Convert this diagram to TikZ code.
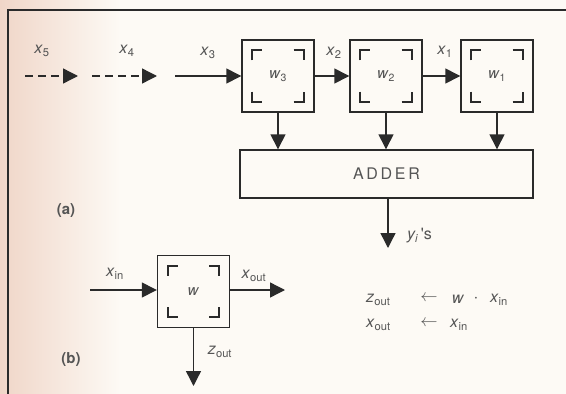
\documentclass[tikz,border=0pt]{standalone}
\usepackage{fontspec}
\setmainfont{TeX Gyre Heros}
\usetikzlibrary{arrows.meta}
\definecolor{ink}{HTML}{2A2A2A}
\definecolor{txt}{HTML}{555555}
\definecolor{paper}{HTML}{FDFAF5}
\definecolor{tint}{HTML}{F0D6C8}
\newcommand\vv[2]{\textit{#1}\textsubscript{#2}}
\newcommand\cornermarks[1]{%
  \draw[mark line] ([shift={(11,21)}]#1.north west) -- ++(0,-10) -- ++(10,0);
  \draw[mark line] ([shift={(-21,11)}]#1.north east) -- ++(10,0) -- ++(0,10);
  \draw[mark line] ([shift={(11,-21)}]#1.south west) -- ++(0,10) -- ++(10,0);
  \draw[mark line] ([shift={(-21,-11)}]#1.south east) -- ++(10,0) -- ++(0,-10);}
\begin{document}
\begin{tikzpicture}[x=1pt,y=-1pt,
  wbox/.style={draw=ink,line width=1.4pt,minimum width=72pt,minimum height=72pt,inner sep=0pt,
     font=\fontsize{15}{17}\selectfont,text=txt},
  mark line/.style={draw=ink,line width=1.8pt},
  lab/.style={font=\fontsize{16}{18}\selectfont,text=txt,inner sep=1pt},
  tag/.style={font=\fontsize{15}{17}\selectfont\bfseries,text=ink!80,inner sep=1pt},
  flow/.style={draw=ink,line width=1.4pt,-{Triangle[length=15pt,width=15pt]}},
  dflow/.style={flow,dash pattern=on 8pt off 5pt},
  frame/.style={draw=ink,line width=1.6pt}]
\useasboundingbox (0,0) rectangle (566,394);
\fill[paper] (0,0) rectangle (566,394);
\shade[left color=tint,right color=paper] (0,0) rectangle (120,394);
% frame
\draw[frame] (8,394) -- (8,10) -- (566,10);
% (a) chain
\node[wbox] (w3) at (278,76) {\vv{w}{3}};
\node[wbox] (w2) at (386,76) {\vv{w}{2}};
\node[wbox] (w1) at (497,76) {\vv{w}{1}};
\cornermarks{w3}\cornermarks{w2}\cornermarks{w1}
\node[draw=ink,line width=1.4pt,minimum width=293pt,minimum height=48pt,inner sep=0pt,
  font=\fontsize{16}{18}\selectfont,text=txt] (adder) at (386.5,174) {A\,D\,D\,E\,R};
\coordinate (s5) at (25,76);  \coordinate (e5) at (78,76);
\coordinate (s4) at (92,76);  \coordinate (e4) at (157,76);
\coordinate (s3) at (175,76);
\draw[dflow] (s5) -- (e5);
\draw[dflow] (s4) -- (e4);
\draw[flow] (s3) -- (w3.west);
\draw[flow] (w3.east) -- (w2.west);
\draw[flow] (w2.east) -- (w1.west);
\node[lab] (l5) at (42,51) {\vv{x}{5}};
\node[lab] (l4) at (127,51) {\vv{x}{4}};
\node[lab] (l3) at (208,53) {\vv{x}{3}};
\node[lab] (l2) at (334,53) {\vv{x}{2}};
\node[lab] (l1) at (445,52) {\vv{x}{1}};
\draw[flow] (w3.south) -- (w3.south |- adder.north);
\draw[flow] (w2.south) -- (w2.south |- adder.north);
\draw[flow] (w1.south) -- (w1.south |- adder.north);
\coordinate (yout) at (388,248);
\draw[flow] (yout |- adder.south) -- (yout);
\node[lab,anchor=west] (ys) at (406,236) {\textit{y\textsubscript{i}}\,\textquotesingle s};
\node[tag] (la) at (66,211) {(a)};
% (b) single cell
\node[wbox] (w) at (193.5,291.5) {\textit{w}};
\cornermarks{w}
\coordinate (xin) at (90,290);
\coordinate (xout) at (285,290);
\coordinate (zout) at (193.5,386);
\draw[flow] (xin) -- (xin -| w.west);
\draw[flow] (xout -| w.east) -- (xout);
\draw[flow] (w.south) -- (zout);
\node[lab] (lxin) at (115,274) {\vv{x}{in}};
\node[lab] (lxout) at (254,276) {\vv{x}{out}};
\node[lab] (lzout) at (220,352) {\vv{z}{out}};
\node[tag] (lb) at (71,360) {(b)};
% equations
\node[lab,anchor=west] (e1a) at (365,300) {\vv{z}{out}};
\node[lab] (e1b) at (429,298) {$\leftarrow$};
\node[lab] (e1c) at (458,299) {\textit{w}};
\node[lab] (e1d) at (476,299) {$\cdot$};
\node[lab,anchor=west] (e1e) at (489,300) {\vv{x}{in}};
\node[lab,anchor=west] (e2a) at (365,325) {\vv{x}{out}};
\node[lab] (e2b) at (429,323) {$\leftarrow$};
\node[lab,anchor=west] (e2c) at (449,325) {\vv{x}{in}};
\end{tikzpicture}
\end{document}
